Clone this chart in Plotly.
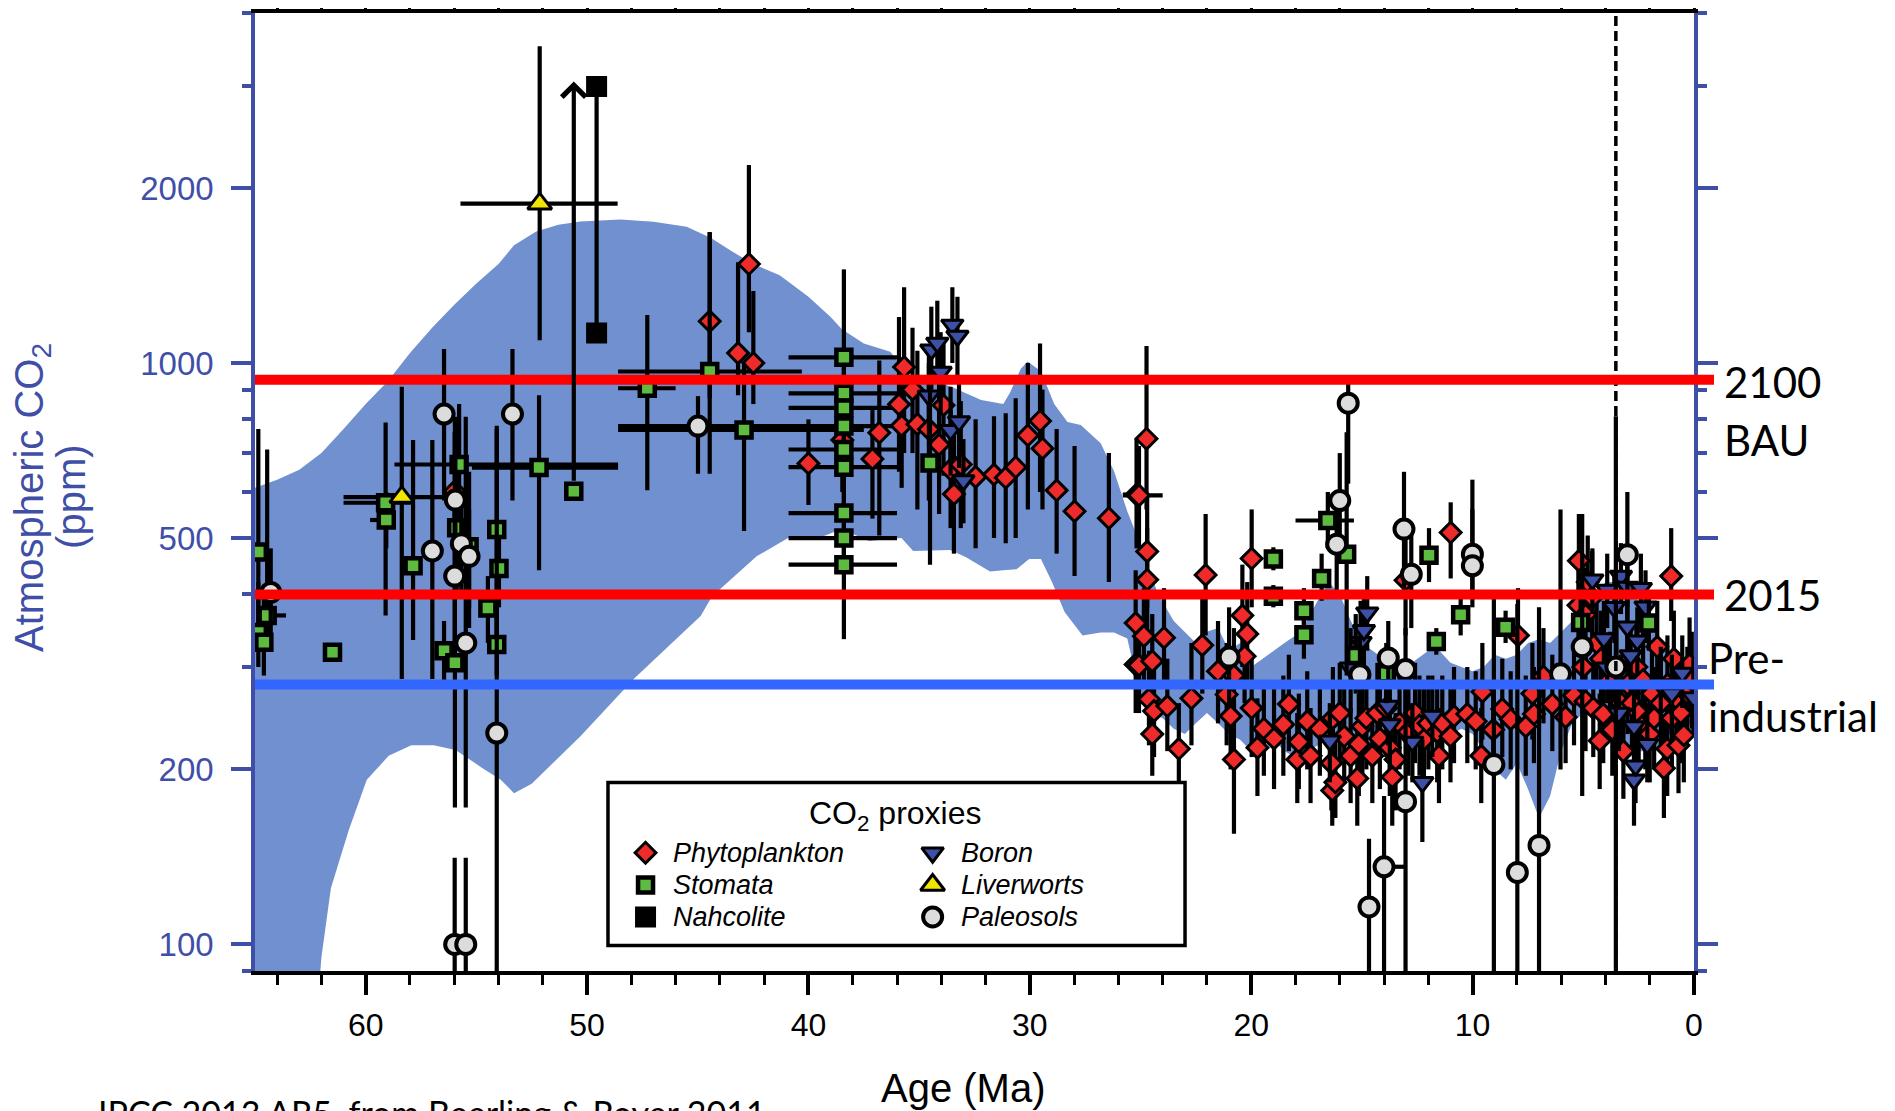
import math
import plotly.graph_objects as go

# ---------------- data ----------------
AGE_RANGE = [65, 0]
PPM_RANGE = [90, 4000]

# envelope of the CO2 reconstruction (age Ma, ppm)
band_upper_age = [65, 64, 63, 62, 61, 60, 59, 58, 57, 56, 55, 54, 53.3, 52.3, 51.3, 50.3, 48.5, 47, 45.5,
                  44.4, 43.5, 42.5, 41.3, 40, 39, 38.5, 37.5, 36.3, 35.5, 34.5, 33.6, 32.2, 31.2, 30.9,
                  30.4, 30.1, 29.5, 28.9, 28.3, 27.7, 26.8, 26.2, 25.6, 25.1, 24.7, 24.2, 23.5, 23.0,
                  22.5, 22.0, 21.5, 21.0, 20.5, 20.0, 19.5, 19.0, 18.5, 18.0, 17.5, 17.0, 16.5, 16.0,
                  15.5, 15.0, 14.5, 14.0, 13.5, 13.0, 12.5, 12.0, 11.5, 11.0, 10.5, 10.0, 9.5, 9.0,
                  8.5, 8.0, 7.5, 7.0, 6.5, 6.0, 5.5, 5.0, 4.5, 4.0, 3.5, 3.0, 2.5, 2.0, 1.5, 1.0, 0.5, 0]
band_upper_ppm = [610, 630, 655, 700, 770, 850, 930, 1040, 1150, 1260, 1370, 1480, 1594, 1684, 1730, 1751,
                  1766, 1750, 1715, 1640, 1560, 1480, 1416, 1300, 1200, 1144, 1080, 1046, 953, 935, 912,
                  864, 850, 889, 979, 1006, 968, 850, 792, 782, 728, 652, 556, 498, 450, 400, 360, 345,
                  330, 345, 350, 320, 330, 300, 310, 320, 330, 340, 360, 390, 420, 400, 360, 330, 320,
                  310, 300, 300, 310, 320, 320, 305, 300, 295, 300, 315, 310, 315, 330, 335, 330, 345,
                  360, 380, 400, 420, 420, 410, 390, 360, 330, 310, 300, 290]
band_lower_age = [65, 62.1, 62.0, 61.57, 60.77, 59.95, 58.96, 57.94, 56.93, 55.94, 54.72, 53.9, 53.3,
                  52.5, 50.3, 47.86, 44.87, 44.35, 42.34, 40.92, 39.3, 38.5, 37.27, 35.8, 35.27, 33.6,
                  32.9, 31.8, 31.2, 30.6, 30.03, 29.5, 29.0, 28.43, 27.62, 26.8, 26.2, 25.6, 25.3, 25.0,
                  24.5, 24.0, 23.5, 23.0, 22.5, 22.0, 21.5, 21.0, 20.5, 20.0, 19.5, 19.0, 18.5, 18.0,
                  17.5, 17.0, 16.5, 16.0, 15.5, 15.0, 14.5, 14.0, 13.5, 13.0, 12.5, 12.0, 11.5, 11.0,
                  10.5, 10.0, 9.5, 9.0, 8.5, 8.0, 7.5, 7.0, 6.5, 6.0, 5.5, 5.0, 4.5, 4.0, 3.5, 3.0,
                  2.5, 2.0, 1.5, 1.0, 0.5, 0]
band_lower_ppm = [85, 85, 95, 125, 157, 192, 211, 220, 220, 216, 201, 192, 182, 189, 228, 287, 367, 397,
                  465, 500, 504, 518, 494, 500, 475, 477, 464, 438, 440, 442, 460, 460, 420, 373, 340,
                  344, 344, 336, 300, 265, 250, 245, 235, 230, 240, 250, 240, 230, 225, 215, 220, 225,
                  215, 210, 215, 220, 225, 230, 220, 215, 210, 215, 220, 230, 235, 230, 225, 230, 235,
                  230, 215, 200, 192, 205, 185, 165, 180, 215, 240, 250, 245, 240, 230, 220, 215, 215,
                  220, 225, 235, 240]

# proxies: (age Ma, ppm, lower ppm, upper ppm)
phyto = [
    (55.98, 602, 480, 760), (44.46, 1180, 870, 1680), (43.18, 1040, 880, 1490), (42.69, 1480, 1130, 2190),
    (42.49, 1000, 850, 1330), (40.00, 672, 570, 800), (38.47, 737, 600, 880), (37.11, 684, 540, 830),
    (36.80, 759, 505, 1010), (35.91, 849, 650, 1200), (35.79, 780, 610, 1000), (35.68, 984, 700, 1350),
    (35.30, 900, 700, 1150), (35.08, 785, 560, 1050), (34.56, 769, 580, 1000), (34.10, 724, 550, 960),
    (33.90, 846, 640, 1100), (33.58, 656, 520, 830), (33.43, 595, 470, 750), (33.12, 669, 520, 860),
    (32.45, 637, 480, 800), (31.62, 643, 500, 810), (31.09, 635, 490, 820), (30.64, 662, 500, 870),
    (30.09, 751, 560, 1000), (29.54, 795, 600, 1080), (29.43, 713, 560, 900), (28.79, 604, 470, 770),
    (27.98, 556, 430, 720), (26.43, 541, 420, 700), (25.18, 594, 480, 740), (25.22, 357, 290, 440),
    (25.22, 303, 250, 370), (24.73, 741, 560, 1070), (25.07, 592, 480, 720), (24.70, 474, 380, 590),
    (24.70, 424, 340, 520), (24.85, 339, 280, 410), (25.07, 302, 250, 360), (24.47, 307, 250, 370),
    (24.62, 264, 220, 320), (24.39, 252, 210, 300), (23.79, 257, 215, 310), (24.47, 230, 195, 270),
    (23.94, 337, 280, 410), (23.27, 217, 185, 260), (22.70, 265, 220, 330), (22.06, 432, 340, 550),
    (22.21, 327, 270, 400), (21.50, 295, 240, 360), (21.11, 269, 220, 330), (20.93, 247, 200, 300),
    (20.78, 208, 155, 260), (20.78, 290, 240, 350), (20.40, 368, 300, 450), (20.18, 342, 280, 420),
    (20.30, 313, 260, 380), (19.98, 461, 380, 560), (19.98, 255, 210, 310), (19.72, 218, 180, 265),
    (19.43, 235, 195, 285), (18.97, 226, 185, 275), (18.55, 239, 195, 290), (18.30, 259, 215, 315),
    (17.92, 208, 175, 250), (17.85, 223, 185, 270), (17.47, 242, 200, 295), (17.32, 211, 175, 255),
    (16.90, 235, 195, 285), (16.38, 205, 170, 245), (16.31, 245, 200, 300), (16.34, 184, 160, 215),
    (16.20, 190, 165, 222), (16.00, 250, 205, 305), (15.80, 228, 190, 275), (15.51, 211, 175, 255),
    (15.21, 193, 160, 235), (15.14, 221, 180, 270), (14.98, 237, 195, 290), (14.80, 245, 200, 300),
    (14.53, 211, 175, 255), (14.30, 250, 205, 305), (14.19, 226, 185, 275), (13.90, 255, 210, 310),
    (13.74, 218, 180, 265), (13.63, 194, 160, 235), (13.48, 208, 170, 250), (13.30, 240, 200, 290),
    (13.03, 423, 340, 520), (12.90, 232, 195, 280), (12.60, 250, 205, 305), (12.40, 238, 195, 290),
    (12.20, 225, 185, 275), (12.00, 240, 200, 290), (11.60, 232, 190, 280), (11.52, 211, 175, 255),
    (11.37, 240, 200, 290), (11.00, 228, 190, 275), (10.99, 511, 426, 576), (10.84, 247, 205, 300),
    (10.24, 249, 205, 300), (9.86, 242, 200, 295), (9.61, 211, 175, 255), (9.56, 272, 225, 330),
    (9.07, 234, 195, 285), (8.66, 254, 210, 310), (8.28, 244, 200, 295), (7.95, 340, 280, 410),
    (7.60, 237, 195, 290), (7.30, 270, 225, 330), (7.23, 249, 205, 300), (6.80, 289, 240, 350),
    (6.40, 259, 215, 315), (5.80, 246, 205, 300), (5.42, 268, 220, 325), (5.22, 383, 320, 460),
    (5.20, 457, 380, 550), (5.00, 300, 250, 360), (4.90, 262, 215, 320), (4.90, 369, 305, 445),
    (4.80, 420, 350, 505), (4.60, 395, 330, 475), (4.55, 255, 210, 310), (4.40, 330, 275, 400),
    (4.26, 224, 185, 270), (4.20, 310, 255, 375), (4.10, 249, 205, 300), (3.80, 285, 235, 345),
    (3.69, 234, 195, 285), (3.50, 300, 250, 360), (3.30, 260, 215, 315), (3.19, 215, 178, 260),
    (3.00, 280, 230, 340), (2.80, 260, 215, 315), (2.60, 300, 250, 360), (2.50, 250, 205, 305),
    (2.30, 285, 235, 345), (2.20, 240, 200, 290), (2.00, 230, 190, 280), (1.90, 270, 225, 325),
    (1.80, 245, 200, 300), (1.66, 325, 270, 390), (1.50, 260, 215, 315), (1.36, 201, 165, 245),
    (1.21, 217, 180, 262), (1.20, 280, 230, 340), (1.03, 430, 360, 520), (1.00, 245, 200, 300),
    (0.91, 310, 255, 375), (0.80, 265, 220, 320), (0.70, 220, 182, 265), (0.60, 250, 205, 305),
    (0.46, 229, 190, 278), (0.30, 270, 225, 325), (0.20, 303, 250, 365), (0.10, 285, 235, 345),
]

stomata = [
    (64.85, 473, 330, 770), (64.45, 368, 326, 710), (64.85, 344, 300, 420), (64.60, 331, 290, 400),
    (61.50, 318, 318, 318), (59.10, 575, 368, 790), (59.07, 537, 480, 600), (57.86, 448, 334, 737),
    (55.78, 669, 420, 850), (55.89, 521, 400, 700), (55.33, 483, 350, 650), (56.46, 320, 280, 360),
    (55.97, 305, 172, 808), (54.48, 379, 330, 430), (54.08, 517, 330, 780), (53.98, 443, 380, 520),
    (54.08, 328, 290, 370), (52.17, 661, 440, 880), (50.60, 602, 602, 602), (47.28, 905, 604, 1209),
    (44.46, 967, 645, 1677), (42.91, 767, 514, 1000),
    (38.40, 1023, 887, 1449), (38.40, 887, 837, 1023), (38.40, 837, 779, 887), (38.40, 779, 710, 837),
    (38.40, 710, 662, 779), (38.40, 662, 552, 710), (38.40, 552, 500, 662), (38.40, 500, 450, 552),
    (38.40, 450, 335, 500), (34.51, 673, 450, 900),
    (19.00, 460, 440, 482), (19.00, 397, 380, 415), (17.62, 375, 345, 410), (17.62, 341, 310, 375),
    (16.82, 426, 390, 470), (16.54, 536, 480, 600), (15.69, 469, 290, 760), (15.28, 314, 270, 370),
    (13.90, 292, 260, 330), (11.97, 467, 420, 520), (11.64, 332, 315, 350), (10.54, 369, 340, 400),
    (8.51, 351, 330, 375), (5.12, 358, 320, 400), (2.04, 357, 320, 400),
]
stomata_arrow = (50.60, 602, 3050)   # lower limit only: arrow to ~3000 ppm

nahcolite = [(49.57, 2990, 1126, 2990), (49.57, 1126, 1126, 1126)]

boron = [
    (33.50, 1163, 1000, 1350), (33.27, 1113, 950, 1300), (34.45, 1054, 900, 1250), (34.18, 1083, 920, 1280),
    (34.03, 965, 820, 1130), (34.56, 878, 740, 1040), (33.58, 766, 640, 910), (33.20, 793, 660, 950),
    (33.00, 628, 530, 740), (16.45, 224, 190, 260), (15.51, 299, 250, 350), (15.06, 331, 280, 390),
    (14.91, 347, 300, 400), (14.76, 372, 320, 430), (13.83, 257, 220, 300), (13.74, 239, 200, 280),
    (12.72, 223, 190, 260), (12.27, 190, 150, 225), (11.82, 247, 210, 290), (4.59, 424, 370, 480),
    (4.07, 336, 290, 390), (3.92, 407, 350, 470), (3.92, 299, 260, 340), (3.60, 380, 330, 440),
    (3.39, 250, 215, 290), (3.30, 430, 370, 490), (3.01, 412, 350, 470), (3.01, 352, 300, 410),
    (2.86, 314, 270, 360), (2.71, 237, 200, 280), (2.71, 192, 160, 230), (2.64, 203, 175, 240),
    (2.56, 333, 290, 380), (2.40, 410, 355, 470), (2.19, 381, 330, 440), (2.11, 221, 190, 260),
    (1.50, 280, 240, 325), (1.00, 270, 230, 315), (0.53, 293, 255, 340), (0.03, 266, 230, 310),
]

liverworts = [(58.37, 588, 286, 910), (52.14, 1880, 1094, 3505)]

paleosols = [
    (64.29, 403, 340, 480), (56.99, 475, 286, 737), (56.46, 817, 580, 1057), (55.95, 581, 450, 800),
    (55.68, 489, 400, 600), (55.33, 465, 380, 560), (55.98, 430, 320, 560), (55.48, 330, 172, 808),
    (54.08, 231, 80, 770), (55.98, 100, 80, 141), (55.48, 100, 80, 141), (53.37, 817, 580, 1057),
    (44.99, 779, 645, 877), (21.00, 312, 260, 380), (16.14, 488, 400, 600), (16.00, 580, 480, 700),
    (15.62, 853, 620, 930), (15.09, 291, 250, 340), (14.68, 116, 80, 152), (14.00, 136, 80, 180),
    (13.81, 311, 270, 360), (13.10, 518, 400, 650), (13.03, 297, 250, 350), (13.03, 176, 80, 300),
    (12.77, 433, 350, 530), (10.01, 469, 400, 630), (10.01, 448, 380, 560), (9.04, 204, 80, 395),
    (7.98, 133, 80, 385), (7.00, 148, 80, 380), (6.03, 292, 200, 560), (5.05, 325, 180, 550),
    (3.53, 300, 80, 810), (3.01, 468, 380, 600),
]

# horizontal (age) uncertainties: (age, ppm, oldest age, youngest age)
age_bars = [
    (64.45, 368, 64.9, 63.6), (59.10, 575, 61.0, 57.9), (59.07, 537, 59.8, 58.7), (58.37, 588, 61.0, 55.5),
    (55.78, 669, 58.7, 48.6), (52.17, 661, 55.2, 48.6), (52.14, 1880, 55.72, 48.62), (47.28, 905, 48.6, 46.0),
    (44.46, 967, 48.6, 40.3), (44.99, 779, 48.6, 40.6), (42.91, 767, 48.6, 37.5),
    (38.40, 1023, 40.9, 36.0), (38.40, 887, 40.9, 36.0), (38.40, 837, 40.9, 36.0), (38.40, 779, 40.9, 36.0),
    (38.40, 710, 40.9, 36.0), (38.40, 662, 40.9, 36.0), (38.40, 552, 40.9, 36.0), (38.40, 500, 40.9, 36.0),
    (38.40, 450, 40.9, 36.0), (25.18, 594, 25.8, 25.0), (25.07, 592, 25.8, 24.0), (16.54, 536, 18.0, 15.36),
    (14.00, 136, 14.0, 13.0), (19.00, 460, 19.15, 18.85), (11.64, 332, 11.9, 11.4),
]

# reference levels (ppm)
level_2100 = 936
level_2015 = 400
level_pre = 280
pliocene_age = 3.53

y_ticks = [100, 200, 500, 1000, 2000]
y_minor = [90, 300, 400, 600, 700, 800, 900, 3000, 4000]

# ---------------- styles ----------------
AX_BLUE = '#3F4FA8'
BAND = '#7190CF'
RED = '#EE2A2A'
GREEN = '#5DBB3F'
TRI_BLUE = '#3D4FA6'
YELLOW = '#F2E600'
GRAY = '#DCDCDC'
ERR_W = 4.2

STYLE = {
    'Phytoplankton': ('diamond', 16, RED, 3),
    'Stomata': ('square', 15, GREEN, 4.5),
    'Nahcolite': ('square', 19, 'black', 2),
    'Boron': ('triangle-down', 19, TRI_BLUE, 3),
    'Liverworts': ('triangle-up', 21, YELLOW, 3),
    'Paleosols': ('circle', 19, GRAY, 4),
}

fig = go.Figure()

# envelope
fig.add_trace(go.Scatter(
    x=band_upper_age + band_lower_age[::-1], y=band_upper_ppm + band_lower_ppm[::-1],
    mode='lines', fill='toself', fillcolor=BAND, line=dict(width=0, color=BAND),
    hoverinfo='skip', showlegend=False))

# horizontal age bars
fig.add_trace(go.Scatter(
    x=[b[0] for b in age_bars], y=[b[1] for b in age_bars], mode='markers',
    marker=dict(size=2, color='rgba(0,0,0,0)'),
    error_x=dict(type='data', symmetric=False,
                 array=[b[2] - b[0] for b in age_bars], arrayminus=[b[0] - b[3] for b in age_bars],
                 color='black', thickness=ERR_W, width=0),
    hoverinfo='skip', showlegend=False))


def add_series(data, name):
    symbol, size, color, lw = STYLE[name]
    fig.add_trace(go.Scatter(
        x=[d[0] for d in data], y=[d[1] for d in data], mode='markers', name=name,
        marker=dict(symbol=symbol, size=size, color=color, line=dict(color='black', width=lw)),
        error_y=dict(type='data', symmetric=False,
                     array=[d[3] - d[1] for d in data], arrayminus=[d[1] - d[2] for d in data],
                     color='black', thickness=ERR_W, width=0),
        showlegend=False))


add_series(phyto, 'Phytoplankton')
add_series(boron, 'Boron')
add_series(stomata, 'Stomata')
add_series(paleosols, 'Paleosols')
add_series(liverworts, 'Liverworts')
add_series(nahcolite, 'Nahcolite')

# dummy trace to host the top (mirror) axis ticks
fig.add_trace(go.Scatter(x=[AGE_RANGE[1]], y=[PPM_RANGE[0] * 2], xaxis='x2', yaxis='y', mode='markers',
                         marker=dict(color='rgba(0,0,0,0)'), hoverinfo='skip', showlegend=False))

# ---------------- custom legend (own overlay axes in paper units) ----------------
legend_items = [
    ('Phytoplankton', 0.2714, 0.1235), ('Stomata', 0.2714, 0.0898), ('Nahcolite', 0.2714, 0.0564),
    ('Boron', 0.4709, 0.1235), ('Liverworts', 0.4709, 0.0898), ('Paleosols', 0.4709, 0.0564),
]
annotations = []
for name, lx, ly in legend_items:
    sym, size, col, lw = STYLE[name]
    fig.add_trace(go.Scatter(x=[lx], y=[ly], xaxis='x3', yaxis='y3', mode='markers',
                             marker=dict(symbol=sym, size=size, color=col, line=dict(color='black', width=lw)),
                             hoverinfo='skip', showlegend=False))
    annotations.append(dict(xref='paper', yref='paper', x=lx + 0.018, y=ly, xanchor='left', yanchor='middle',
                            text='<i>' + name + '</i>', showarrow=False,
                            font=dict(family='Liberation Sans, Arial', size=27, color='black')))
annotations.append(dict(xref='paper', yref='paper', x=0.4454, y=0.1618, xanchor='center', yanchor='middle',
                        text='CO<sub>2</sub> proxies', showarrow=False,
                        font=dict(family='Liberation Sans, Arial', size=32, color='black')))

# arrow for lower-limit stomata estimate
annotations.append(dict(xref='x', yref='y', x=stomata_arrow[0], y=math.log10(stomata_arrow[2]),
                        axref='x', ayref='y', ax=stomata_arrow[0], ay=math.log10(stomata_arrow[1]),
                        showarrow=True, arrowhead=4, arrowsize=1.1, arrowwidth=ERR_W, arrowcolor='black',
                        startstandoff=9, text=''))

# right-hand labels
lab_font = dict(family='Lato, Open Sans, sans-serif', size=42, color='black')
for txt, lx, ly in [('2100', 1.0195, 0.6148), ('BAU', 1.0195, 0.5543), ('2015', 1.0195, 0.3929),
                    ('Pre-', 1.0083, 0.3267), ('industrial', 1.0083, 0.2662)]:
    annotations.append(dict(xref='paper', yref='paper', x=lx, y=ly, xanchor='left', yanchor='middle',
                            text=txt, showarrow=False, font=lab_font))

# axis titles
annotations.append(dict(xref='paper', yref='paper', x=0.4927, y=-0.1221, xanchor='center', yanchor='middle',
                        text='Age (Ma)', showarrow=False,
                        font=dict(family='Liberation Sans, Arial', size=40, color='black')))
annotations.append(dict(xref='paper', yref='paper', x=-0.155, y=0.4948, xanchor='center', yanchor='middle',
                        text='Atmospheric CO<sub>2</sub>', textangle=-90, showarrow=False,
                        font=dict(family='Liberation Sans, Arial', size=40, color=AX_BLUE)))
annotations.append(dict(xref='paper', yref='paper', x=-0.1279, y=0.4948, xanchor='center', yanchor='middle',
                        text='(ppm)', textangle=-90, showarrow=False,
                        font=dict(family='Liberation Sans, Arial', size=40, color=AX_BLUE)))
# source line (cut by the bottom edge as in the original)
annotations.append(dict(xref='paper', yref='paper', x=-0.1105, y=-0.1242, xanchor='left', yanchor='top',
                        text='IPCC 2013 AR5, from Beerling &amp; Royer 2011', showarrow=False,
                        font=dict(family='Lato, Open Sans, sans-serif', size=34, color='black')))

# ---------------- shapes ----------------
shapes = [
    dict(type='rect', xref='x3', yref='y3', x0=0.2453, x1=0.6463, y0=0.0267, y1=0.1968,
         line=dict(color='black', width=3.5), fillcolor='white', layer='below'),
    dict(type='line', xref='x', yref='paper', x0=pliocene_age, x1=pliocene_age, y0=0, y1=1,
         line=dict(color='black', width=3.5, dash='10px,5px'), layer='above'),
]
for lvl, col in [(level_2100, '#FF0000'), (level_2015, '#FF0000'), (level_pre, '#3366FF')]:
    shapes.append(dict(type='line', xref='paper', yref='y', ysizemode='pixel', yanchor=lvl, y0=-7, y1=-7,
                       x0=0, x1=1.0139, line=dict(color='rgba(0,0,0,0.16)', width=5), layer='above'))
    shapes.append(dict(type='line', xref='paper', yref='y', x0=0, x1=1.0139, y0=lvl, y1=lvl,
                       line=dict(color=col, width=10), layer='above'))

# the page adds an 8 px body margin, so the figure is made 8 px smaller than the window
fig.update_layout(
    width=1887, height=1103,
    margin=dict(l=247, r=201, t=5, b=140, autoexpand=False),
    paper_bgcolor='white', plot_bgcolor='rgba(0,0,0,0)',
    showlegend=False,
    font=dict(family='Liberation Sans, Arial, sans-serif'),
    xaxis=dict(range=AGE_RANGE, tickmode='linear', tick0=0, dtick=10, ticks='outside', ticklen=20,
               tickwidth=3.5, tickcolor='black', showline=True, linewidth=3.5, linecolor='black',
               showgrid=False, zeroline=False, automargin=False, ticklabelstandoff=3,
               tickfont=dict(size=32, color='black', family='Liberation Sans, Arial'),
               minor=dict(tick0=0, dtick=2, ticks='outside', ticklen=10, tickwidth=3, tickcolor='black')),
    xaxis2=dict(overlaying='x', side='top', anchor='y', range=AGE_RANGE, tickmode='linear', tick0=0, dtick=2,
                ticks='outside', ticklen=5, tickwidth=3, tickcolor='black', showline=True, linewidth=3.5,
                linecolor='black', showticklabels=False, showgrid=False, zeroline=False),
    yaxis=dict(type='log', range=[math.log10(PPM_RANGE[0]), math.log10(PPM_RANGE[1])],
               tickmode='array', tickvals=y_ticks, ticktext=[str(v) for v in y_ticks],
               ticks='outside', ticklen=20, tickwidth=3.5, tickcolor=AX_BLUE,
               showline=True, linewidth=3.5, linecolor=AX_BLUE, mirror='ticks',
               showgrid=False, zeroline=False, automargin=False, ticklabelstandoff=11,
               tickfont=dict(size=33, color=AX_BLUE, family='Liberation Sans, Arial'),
               minor=dict(tickmode='array', tickvals=y_minor, ticks='outside', ticklen=9, tickwidth=3.5,
                          tickcolor=AX_BLUE)),
    xaxis3=dict(domain=[0, 1], anchor='y3', range=[0, 1], visible=False),
    yaxis3=dict(domain=[0, 1], anchor='x3', range=[0, 1], visible=False),
    shapes=shapes,
    annotations=annotations,
)

fig.write_html('out.html')
